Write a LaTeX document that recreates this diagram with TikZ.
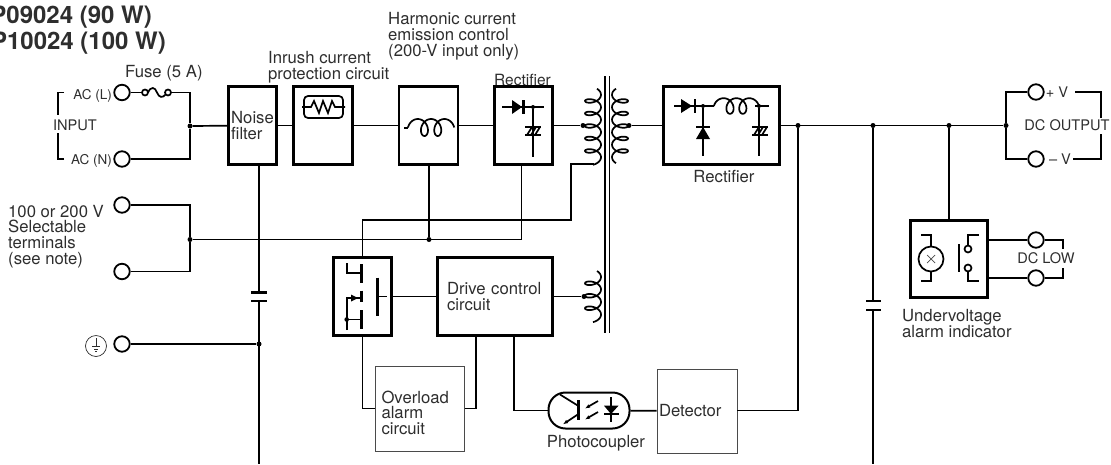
\documentclass[tikz,border=0pt]{standalone}
\usepackage{fontspec}
\setmainfont{TeX Gyre Heros}
\usetikzlibrary{calc}
\usetikzlibrary{arrows.meta}
\definecolor{inkgray}{HTML}{2E2E2E}
\definecolor{thingray}{HTML}{4A4A4A}
\newcommand{\lblfont}{\fontsize{16.7}{15.8}\selectfont}
\newcommand{\smallfont}{\fontsize{14.6}{15}\selectfont}
\newcommand{\titlefont}{\fontsize{24}{26}\selectfont\bfseries}
% vertical winding: centre x, reach (signed), start y, domain ends
\newcommand{\vcoil}[5]{\draw[wire] plot[smooth,samples=120,domain=#4:#5]
  ({#1+#2*cos(\x)},{#3+\x/360*12.5+4.5*sin(\x)});}
% horizontal winding: centre x, base y, height, pitch
\newcommand{\hcoil}[4]{\draw[wire] plot[smooth,samples=90,domain=-90:810]
  ({#1+\x/360*#4+6.5*sin(\x)},{#2-#3*cos(\x)});}
\tikzset{
  wire/.style={line width=1.7pt, black},
  thinwire/.style={line width=1.4pt, black},
  boldbar/.style={line width=2.5pt, black},
  bigbox/.style={draw, black, line width=2.8pt, text=inkgray, inner sep=0pt, align=left, font=\lblfont},
  thinbox/.style={draw=thingray, line width=1pt, text=inkgray, inner sep=0pt, align=left, font=\lblfont},
  term/.style={circle, draw, black, fill=white, line width=1.8pt, minimum size=15.5pt, inner sep=0pt},
  dot/.style={circle, fill=black, inner sep=0pt, minimum size=5pt},
  lbl/.style={text=inkgray, inner sep=0pt, align=left, font=\lblfont},
  lblsmall/.style={text=inkgray, inner sep=0pt, align=left, font=\smallfont},
  titlelbl/.style={text=inkgray, inner sep=0pt, anchor=east, font=\titlefont}
}
\begin{document}
\begin{tikzpicture}[x=1pt, y=-1pt]
  \useasboundingbox (0,0) rectangle (1111,464);

  % blocks
  \draw (252.5,125.5) node[bigbox, minimum width=48pt, minimum height=78pt] (noise) {Noise\\filter};
  \draw (323,125.5) node[bigbox, minimum width=59pt, minimum height=78pt] (inrush) {};
  \draw (428.5,125.5) node[bigbox, minimum width=59pt, minimum height=78pt] (choke) {};
  \draw (523.5,125.5) node[bigbox, minimum width=58pt, minimum height=78pt] (rectin) {};
  \draw (721.5,125.5) node[bigbox, minimum width=116pt, minimum height=78pt] (rectout) {};
  \draw (362.5,296.5) node[bigbox, minimum width=58pt, minimum height=78pt] (switch) {};
  \draw (495,296.5) node[bigbox, text width=96pt, minimum width=115pt, minimum height=78pt] (drive) {Drive control\\circuit};
  \draw (419.5,408.5) node[thinbox, text width=76pt, minimum width=89pt, minimum height=85pt] (overload) {\rule{0pt}{21pt}Overload\\alarm\\circuit};
  \draw (697,411) node[thinbox, text width=76pt, minimum width=80pt, minimum height=84pt] (detector) {Detector};
  \draw (589,410.5) node[draw, black, line width=2pt, rounded corners=17pt, minimum width=81pt, minimum height=36pt] (opto) {};
  \draw (949,259) node[bigbox, minimum width=77pt, minimum height=77pt] (uvalarm) {};

  % terminals
  \draw (122,92.5) node[term] (acl) {};
  \draw (122,159) node[term] (acn) {};
  \draw (122,205) node[term] (sela) {};
  \draw (122,271.5) node[term] (selb) {};
  \draw (122,344) node[term] (gnd) {};
  \draw (1036,92) node[term] (vplus) {};
  \draw (1036,159) node[term] (vminus) {};
  \draw (1036,240) node[term] (lowa) {};
  \draw (1036,278) node[term] (lowb) {};

  % junctions and free ends
  \draw (190,126) node[dot] (jin) {};
  \draw (190,239.5) node[dot] (jsel) {};
  \draw (429,239.5) node[dot] (jchoke) {};
  \draw (259,344) node[dot] (jgnd) {};
  \draw (583,125.5) node[dot] (jpri) {};
  \draw (629,125.5) node[dot] (jsec) {};
  \draw (584,296.5) node[dot] (jaux) {};
  \draw (798,125.5) node[dot] (jfb) {};
  \draw (873,125.5) node[dot] (jcap) {};
  \draw (949,125.5) node[dot] (juv) {};
  \draw (1006,125.5) node[dot] (jout) {};
  \coordinate (noisetap) at (259,164.5);
  \coordinate (noiseend) at (259,464);
  \coordinate (captap) at (873,464);
  \coordinate (choketap) at (429,164.5);
  \coordinate (recttap) at (521.5,164.5);
  \coordinate (bendup) at (571,220);
  \coordinate (priend) at (594,164);
  \coordinate (driveleft) at (476,335);
  \coordinate (driveright) at (514,335);
  \coordinate (detright) at (737,410.5);
  \coordinate (brktop) at (1101,118);
  \coordinate (brkbot) at (1101,134);
  \coordinate (vplusr) at (1075,92);
  \coordinate (vminusr) at (1073,159);
  \coordinate (lowtop) at (1063,249);
  \coordinate (lowbot) at (1063,268);

  % wiring
  \draw[wire] (acl) -- (143,92.5);
  \draw[wire] (145,92.5) circle (3) (168,92.5) circle (3);
  \draw[wire] (148,92.5) .. controls (151,86) and (155,87) .. (157,92.5)
    .. controls (159,98) and (163,98) .. (165.5,94.5);
  \draw[wire] (171,92.5) -| (jin);
  \draw[wire] (acn) -| (jin);
  \draw[wire] (jin) -- (noise);
  \draw[wire] (noise) -- (inrush);
  \draw[wire] (inrush) -- (choke);
  \draw[wire] (choke) -- (rectin);
  \draw[wire] (rectin) -- (jpri);
  \draw[wire] (jsec) -- (rectout);
  \draw[wire] (rectout) -- (jout);
  \draw[wire] (sela) -| (jsel);
  \draw[wire] (selb) -| (jsel);
  \draw[thinwire] (jsel) -| (recttap);
  \draw[thinwire] (jchoke) -- (choketap);
  \draw[thinwire] (switch.north) |- (bendup) |- (priend);
  \draw[wire] (noisetap) -- (259,292.5);
  \draw[wire] (259,301) -- (noiseend);
  \draw[boldbar] (251,292.5) -- (267,292.5) (251,301) -- (267,301);
  \draw[wire] (gnd) -- (jgnd);
  \draw[wire] (switch) -- (drive);
  \draw[wire] (drive) -- (jaux);
  \draw[wire] (switch.south) |- (overload);
  \draw[wire] (overload) -| (driveleft);
  \draw[wire] (driveright) |- (opto);
  \draw[wire] (opto) -- (detector);
  \draw[wire] (detright) -| (jfb);
  \draw[wire] (jcap) -- (873,301);
  \draw[wire] (873,310) -- (captap);
  \draw[boldbar] (866,301) -- (881,301) (866,310) -- (881,310);
  \draw[wire] (juv) -- (uvalarm);
  \draw[wire] (jout) |- (vplus);
  \draw[wire] (jout) |- (vminus);
  \draw[wire] (vplusr) -| (brktop);
  \draw[wire] (vminusr) -| (brkbot);
  \draw[wire] (uvalarm.east |- lowa) -- (lowa);
  \draw[wire] (uvalarm.east |- lowb) -- (lowb);
  \draw[wire] (lowa) -| (lowtop);
  \draw[wire] (lowb) -| (lowbot);

  % transformer
  \draw[wire] (605,76) -- (605,333) (609.5,76) -- (609.5,333);
  \vcoil{593}{8}{94.7}{-60}{1890}
  \vcoil{620}{-8}{94.7}{-60}{1860}
  \vcoil{593}{8}{277}{-60}{1170}

  % inrush element
  \draw[wire, rounded corners=4pt] (304,96) rectangle (343,118);
  \draw[wire] (302,107) -- (311,107) -- (314,101) -- (319,113) -- (323,101) -- (328,113) -- (332,101) -- (335,107) -- (345,107);

  % choke
  \draw[wire] (404,128) -- (408,128);
  \hcoil{417.8}{127.5}{8.5}{13.3}

  % input rectifier
  \draw[wire] (502,107) -- (544,107);
  \fill (512,100) -- (522,107) -- (512,114) -- cycle;
  \draw[boldbar] (523.7,100) -- (523.7,114);
  \draw (533,107) node[dot, minimum size=4pt] (jrect) {};
  \draw[wire] (jrect) -- (533,157);
  \draw[wire] (525,127) -- (541,127) (525,135) -- (541,135);
  \foreach \hx in {527,531,535} {\draw[wire] (\hx,135) -- (\hx+5,127);}

  % output rectifier
  \draw[wire] (674,106) -- (714,106);
  \fill (681,99) -- (692,106) -- (681,113) -- cycle;
  \draw[boldbar] (695,99) -- (695,113);
  \draw (703,106) node[dot, minimum size=4pt] (jdio) {};
  \draw[wire] (jdio) -- (703,156);
  \draw[boldbar] (696,127) -- (710,127);
  \fill (703,127) -- (710,139) -- (696,139) -- cycle;
  \hcoil{723.6}{106}{7.8}{12.8}
  \draw (759,106) node[dot, minimum size=4pt] (jfilt) {};
  \draw[wire] (755,106) -- (769,106);
  \draw[wire] (jfilt) -- (759,156);
  \draw[wire] (752,127) -- (768,127) (752,135) -- (768,135);
  \foreach \hx in {754,758,762} {\draw[wire] (\hx,135) -- (\hx+5,127);}

  % switching element
  \draw[wire] (346.7,263) -- (346.7,273) -- (361,273);
  \draw[boldbar] (361.3,264) -- (361.3,283);
  \draw[boldbar] (361.3,290.5) -- (361.3,302);
  \draw[boldbar] (361.3,310) -- (361.3,329);
  \draw[wire] (346.7,330) -- (346.7,298) -- (361,298);
  \fill (358,298) -- (351,294.5) -- (351,301.5) -- cycle;
  \draw[wire] (346.7,319.5) -- (361,319.5);
  \fill (346.7,319.5) circle (2.3);
  \draw[boldbar] (377.7,277.5) -- (377.7,316);
  \draw[wire] (377.7,296.5) -- (386.7,296.5);

  % photocoupler
  \draw[wire] (560,394.5) -- (578,405.7);
  \draw[wire, -{Latex[length=5pt,width=4pt]}] (578,414.3) -- (563,424.3);
  \draw[boldbar] (578.3,400) -- (578.3,420);
  \foreach \ay in {401,412} {\draw[wire, -{Latex[length=5pt,width=4pt]}] (598,\ay) -- (585,\ay+7.5);}
  \draw[wire] (611,397) -- (611,421.5) (604,414) -- (618.5,414);
  \fill (604,405.7) -- (618.5,405.7) -- (611,414) -- cycle;

  % lamp and contact
  \draw (931,259) node[circle, draw, black, line width=1.7pt, minimum size=25pt, inner sep=0pt] (lamp) {};
  \draw[thingray, line width=0.7pt] (927,255) -- (935,263) (927,263) -- (935,255);
  \draw[wire] (lamp.north) |- (921,235);
  \draw[wire] (lamp.south) |- (921,281);
  \draw[wire] (959,244) -- (959,272);
  \draw[wire] (968,249) circle (3.5) (968,268) circle (3.5);
  \draw[wire] (968,245.5) |- (979,235);
  \draw[wire] (968,271.5) |- (979,281);

  % earth mark
  \draw (96,346) node[circle, draw, inkgray, line width=0.7pt, minimum size=21pt, inner sep=0pt] (earth) {};
  \draw[inkgray, line width=0.7pt] (96,338) -- (96,346.7) (92,346.7) -- (100,346.7) (94,349) -- (98,349) (95.2,351) -- (96.8,351);

  % input and output brackets
  \draw[wire] (64,92.5) -- (58,92.5) -- (58,115);
  \draw[wire] (64,159) -- (58,159) -- (58,133);

  % texts
  \draw (152,17) node[titlelbl] (titlea) {P09024 (90 W)};
  \draw (166,43) node[titlelbl] (titleb) {P10024 (100 W)};
  \draw (125,73) node[lbl, anchor=west] (fuselbl) {Fuse (5 A)};
  \draw (268,67) node[lbl, anchor=west] (inrushlbl) {Inrush current\\protection circuit};
  \draw (388,36.5) node[lbl, anchor=west] (harmlbl) {Harmonic current\\emission control\\(200-V input only)};
  \draw (522.5,80) node[lbl, font=\fontsize{15.5}{15}\selectfont] (rectinlbl) {Rectifier};
  \draw (724,177) node[lbl] (rectoutlbl) {Rectifier};
  \draw (596,443) node[lbl] (optolbl) {Photocoupler};
  \draw (902,323.5) node[lbl, anchor=west] (uvlbl) {Undervoltage\\alarm indicator};
  \draw (8,236.5) node[lbl, anchor=west] (sellbl) {100 or 200 V\\Selectable\\terminals\\(see note)};
  \draw (112,96) node[lblsmall, anchor=east, font=\fontsize{13.5}{14}\selectfont] (acllbl) {AC (L)};
  \draw (112,161) node[lblsmall, anchor=east, font=\fontsize{13.5}{14}\selectfont] (acnlbl) {AC (N)};
  \draw (75,125) node[lblsmall] (inputlbl) {INPUT};
  \draw (1067,125) node[lblsmall] (dcoutlbl) {DC OUTPUT};
  \draw (1046,258) node[lblsmall] (dclowlbl) {DC LOW};
  \draw (1057,92) node[lblsmall] (vpluslbl) {+ V};
  \draw (1060,159) node[lblsmall] (vminuslbl) {– V};
\end{tikzpicture}
\end{document}
